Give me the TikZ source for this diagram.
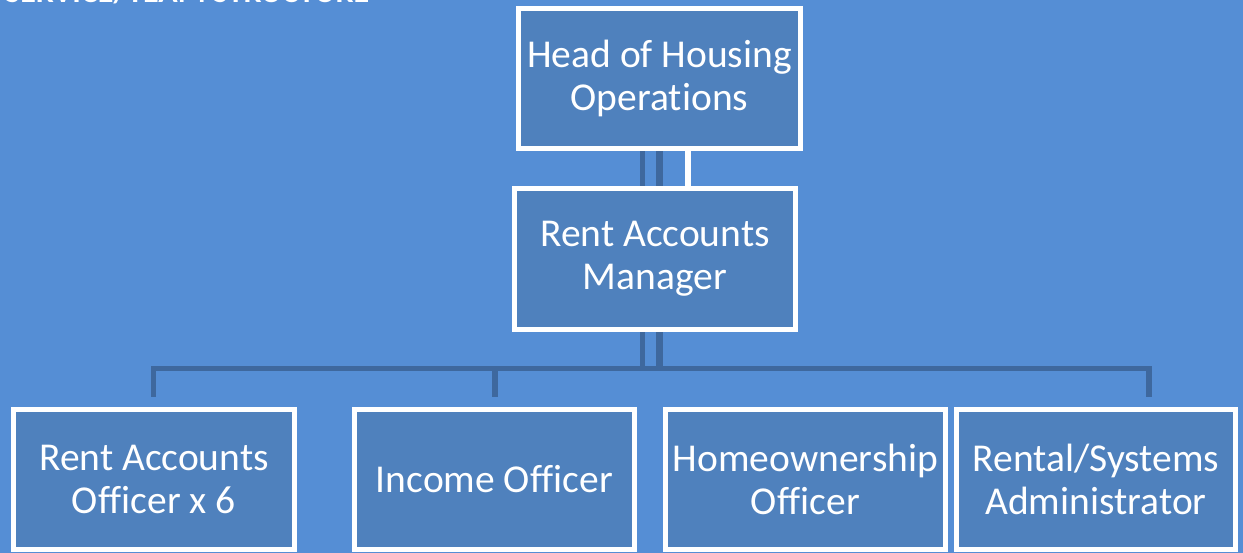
\documentclass[tikz,border=0pt]{standalone}
\usepackage{fontspec}
\setmainfont{Carlito}[Ligatures={NoCommon}]
\pgfdeclarelayer{backdrop}
\pgfdeclarelayer{links}
\pgfsetlayers{backdrop,links,main}
\definecolor{pagebg}{RGB}{85,142,213}
\definecolor{boxfill}{RGB}{79,129,189}
\definecolor{linkcol}{RGB}{62,104,158}
\tikzset{
  post/.style={draw=white, line width=5pt, fill=boxfill, text=white,
    inner sep=0pt, minimum width=281pt, minimum height=140pt, align=center,
    font=\fontsize{39.5}{43}\selectfont},
  link/.style={draw=linkcol, line width=5.5pt},
  heading/.style={text=white, inner sep=0pt, font=\bfseries\fontsize{32}{32}\selectfont}
}
\begin{document}
\begin{tikzpicture}[x=1pt, y=-1pt]
  \useasboundingbox (0,0) rectangle (1243,553);
  \clip (0,0) rectangle (1243,553);
  \begin{pgfonlayer}{backdrop}
    \fill[pagebg] (0,0) rectangle (1243,553);
  \end{pgfonlayer}

  % page heading, running off the top edge
  \node[heading, anchor=base west] (title) at (5,3) {SERVICE/TEAM STRUCTURE};

  % posts
  \node[post, minimum width=282pt] (head) at (659.5,78.5) {Head of Housing\\Operations};
  \node[post, minimum height=141pt] (mgr) at (655,259) {Rent Accounts\\Manager};
  \node[post] (rao) at (154,479.5) {Rent Accounts\\Officer x 6};
  \node[post, minimum width=280pt] (inc) at (494.5,479.5) {Income Officer};
  \node[post, minimum width=280pt] (home) at (805.5,479.5) {Homeownership\\Officer};
  \node[post, minimum width=279pt] (rsa) at (1096,479.5) {Rental/Systems\\Administrator};

  % junction points of the lower bar
  \coordinate (barL) at (153.5,368.5);
  \coordinate (barR) at (1149,368.5);
  \coordinate (barI) at (495,368.5);
  \coordinate (dropL) at (153.5,397);
  \coordinate (dropR) at (1149,397);
  \coordinate (dropI) at (495,397);
  \coordinate (lineA) at (642.5,0);
  \coordinate (lineB) at (659,0);
  \coordinate (lineW) at (688,0);

  \begin{pgfonlayer}{links}
    % head to manager
    \draw[link, line width=5pt] (head.south -| lineA) -- (mgr.north -| lineA);
    \draw[link, line width=7pt] (head.south -| lineB) -- (mgr.north -| lineB);
    \draw[draw=white, line width=6pt] (head.south -| lineW) -- (mgr.north -| lineW);
    % manager to the team bar
    \draw[link, line width=5pt] (mgr.south -| lineA) -- (barL -| lineA);
    \draw[link, line width=7pt] (mgr.south -| lineB) -- (barL -| lineB);
    \draw[link, line join=miter] (dropL) -- (barL) -- (barR) -- (dropR);
    \draw[link] (barI) -- (dropI);
  \end{pgfonlayer}
\end{tikzpicture}
\end{document}
